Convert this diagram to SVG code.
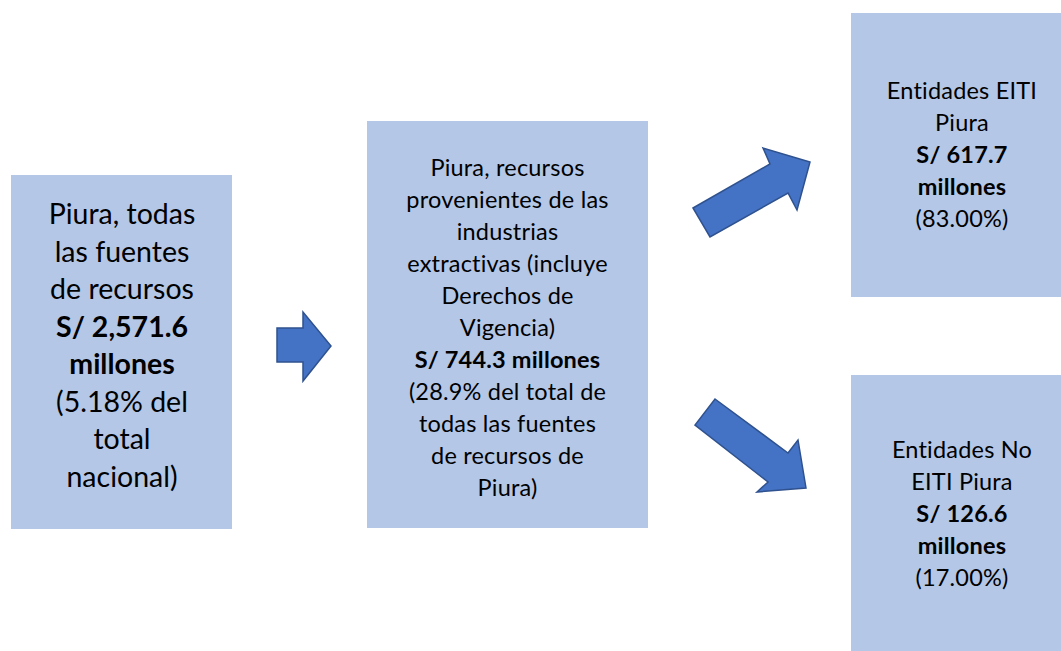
<svg xmlns="http://www.w3.org/2000/svg" width="1061" height="651" viewBox="0 0 1061 651">
<style>
.box{fill:#B4C7E7;}
.arrow{fill:#4472C4;stroke:#2F528F;stroke-width:1.5;stroke-linejoin:miter;}
text{font-family:Lato,"Liberation Sans",sans-serif;fill:#000;text-anchor:middle;}
.t1{font-size:28.5px;}
.t2{font-size:23.5px;letter-spacing:0.2px;}
.b{font-weight:bold;}
</style>
<rect width="1061" height="651" fill="#fff"/>
<g id="node-total">
<rect class="box" x="11" y="175" width="221" height="354"/>
<text class="t1"><tspan x="122" y="224">Piura, todas</tspan><tspan x="122" y="261.5">las fuentes</tspan><tspan x="122" y="299">de recursos</tspan><tspan class="b" x="122" y="336.5">S/ 2,571.6</tspan><tspan class="b" x="122" y="374">millones</tspan><tspan x="122" y="411.5">(5.18% del</tspan><tspan x="122" y="449">total</tspan><tspan x="122" y="486.5">nacional)</tspan></text>
</g>
<g id="node-extractivas">
<rect class="box" x="367" y="121" width="281" height="407"/>
<text class="t2"><tspan x="507.5" y="176">Piura, recursos</tspan><tspan x="507.5" y="208">provenientes de las</tspan><tspan x="507.5" y="240">industrias</tspan><tspan x="507.5" y="272">extractivas (incluye</tspan><tspan x="507.5" y="304">Derechos de</tspan><tspan x="507.5" y="336">Vigencia)</tspan><tspan class="b" x="507.5" y="368">S/ 744.3 millones</tspan><tspan x="507.5" y="400">(28.9% del total de</tspan><tspan x="507.5" y="432">todas las fuentes</tspan><tspan x="507.5" y="464">de recursos de</tspan><tspan x="507.5" y="496">Piura)</tspan></text>
</g>
<g id="node-eiti">
<rect class="box" x="851" y="13" width="222" height="284"/>
<text class="t2"><tspan x="962" y="99">Entidades EITI</tspan><tspan x="962" y="131">Piura</tspan><tspan class="b" x="962" y="163">S/ 617.7</tspan><tspan class="b" x="962" y="195">millones</tspan><tspan x="962" y="227">(83.00%)</tspan></text>
</g>
<g id="node-noeiti">
<rect class="box" x="851" y="375" width="222" height="290"/>
<text class="t2"><tspan x="962" y="458">Entidades No</tspan><tspan x="962" y="490">EITI Piura</tspan><tspan class="b" x="962" y="522">S/ 126.6</tspan><tspan class="b" x="962" y="554">millones</tspan><tspan x="962" y="586">(17.00%)</tspan></text>
</g>
<g id="connectors">
<polygon class="arrow" points="277,328 303,328 303,312 331,346 303,381 303,362 277,362"/>
<polygon class="arrow" points="693,208 770,164 763,148 810,162 797,210 788,193 710,237"/>
<polygon class="arrow" points="715,399 788,453 798,440 806,488 757,492 768,482 695,425"/>
</g>
</svg>
